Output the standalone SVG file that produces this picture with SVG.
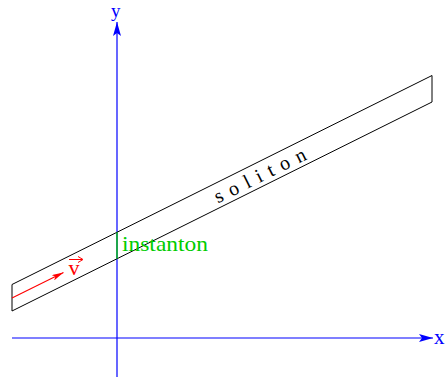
<svg xmlns="http://www.w3.org/2000/svg" width="445" height="381" viewBox="0 0 445 381">
<defs>
<style>
.t{font-family:"Liberation Serif","Times New Roman",serif;}
.ax{stroke:#0000ff;stroke-width:1.2;fill:none;}
</style>
<marker id="ab" viewBox="0 0 14 8" refX="14" refY="4" markerWidth="14" markerHeight="8" markerUnits="userSpaceOnUse" orient="auto"><path d="M0,0 L14,4 L0,8 L3,4 Z" fill="#0000ff"/></marker>
<marker id="ar" viewBox="0 0 12 6" refX="12" refY="3" markerWidth="12" markerHeight="6" markerUnits="userSpaceOnUse" orient="auto"><path d="M0,0 L12,3 L0,6 L3,3 Z" fill="#ff0000"/></marker>
</defs>
<rect width="445" height="381" fill="#ffffff"/>
<g id="connectors">
<line id="xaxis" class="ax" x1="12" y1="338" x2="433" y2="338" marker-end="url(#ab)"/>
<line id="yaxis" class="ax" x1="117" y1="377" x2="117" y2="22" marker-end="url(#ab)"/>
</g>
<g id="soliton">
<polygon points="12,284.5 432,75.5 432,102 12,311" fill="none" stroke="#000000" stroke-width="1"/>
<text class="t" x="218" y="203.5" font-size="20" letter-spacing="7.6" fill="#000000" transform="rotate(-26.45 218 203.5)">soliton</text>
</g>
<g id="instanton">
<line x1="117" y1="232.3" x2="117" y2="258.7" stroke="#00c000" stroke-width="1.4"/>
<text class="t" x="122" y="251" font-size="22" textLength="86" lengthAdjust="spacingAndGlyphs" fill="#00cc00">instanton</text>
</g>
<g id="velocity">
<line x1="12" y1="298" x2="63.5" y2="272.5" stroke="#ff0000" stroke-width="1.1" marker-end="url(#ar)"/>
<text class="t" x="68.5" y="275" font-size="22" fill="#ff0000">v</text>
<line x1="69" y1="259.5" x2="82" y2="259.5" stroke="#ff0000" stroke-width="1"/>
<path d="M78,256.5 L83,259.5 L78,262.5" fill="none" stroke="#ff0000" stroke-width="1"/>
</g>
<g id="labels">
<text class="t" x="111" y="17" font-size="19" fill="#0000ff">y</text>
<text class="t" x="434" y="344" font-size="21" fill="#0000ff">x</text>
</g>
</svg>
